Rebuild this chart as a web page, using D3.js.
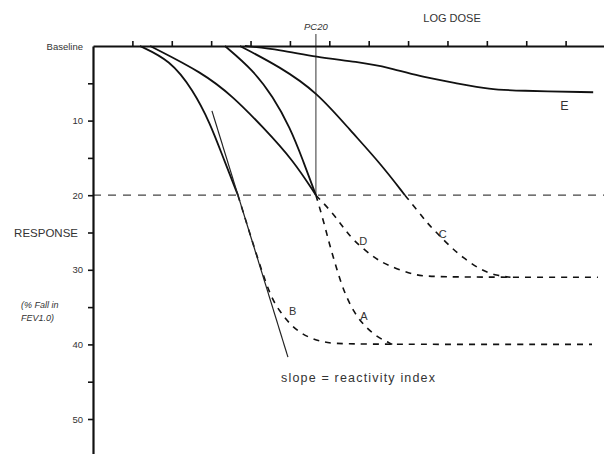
<!DOCTYPE html>
<html>
<head>
<meta charset="utf-8">
<script src="https://cdn.jsdelivr.net/npm/d3@7"></script>
<style>
  body { margin: 0; background: #fff; }
  text { font-family: "Liberation Sans", Arial, sans-serif; fill: #333; }
</style>
</head>
<body>
<div id="chart"></div>
<script>
// data: [log dose, % fall]
var xTicks = [1, 2, 3, 4, 5, 6, 7, 8, 9, 10, 11, 12];
var yTicks = [0, 5, 10, 15, 20, 25, 30, 35, 40, 45, 50];
var yTickLabels = { 0: "Baseline", 10: "10", 20: "20", 25: "RESPONSE", 30: "30", 40: "40", 50: "50" };
var pc20Dose = 5.66;
var pc20Level = 20;

var curveA_solid = [[3.35, 0], [4.06, 3.2], [4.57, 6.8], [5.0, 10.9], [5.33, 15.3], [5.66, 20]];
var curveA_dash = [[5.66, 20], [5.84, 23.2], [6.0, 26.5], [6.15, 29.2], [6.3, 31.8], [6.45, 33.8], [6.62, 35.6], [6.85, 37.3], [7.2, 39.0], [7.6, 40]];
var curveB_solid = [[1.19, 0], [1.96, 1.9], [2.54, 5.9], [2.97, 10.3], [3.3, 14.9], [3.68, 20]];
var curveB_dash = [[3.68, 20], [4.11, 27.3], [4.5, 33.6], [4.75, 35.6], [4.95, 37.0], [5.26, 38.5], [5.59, 39.3], [5.94, 39.8], [6.4, 40], [12.67, 40]];
var curveC_solid = [[3.73, 0], [4.75, 2.8], [5.69, 6.2], [6.53, 11.3], [7.29, 15.7], [7.92, 20]];
var curveC_dash = [[7.92, 20], [8.23, 22.0], [8.48, 23.7], [8.74, 25.1], [9.07, 26.9], [9.4, 28.4], [9.83, 30.0], [10.26, 30.8], [10.6, 31]];
var curveD_solid = [[1.45, 0], [2.79, 3.6], [3.56, 6.8], [4.32, 10.9], [5.08, 15.3], [5.66, 20]];
var curveD_dash = [[5.66, 20], [6.09, 22.4], [6.35, 24.3], [6.6, 26.0], [7.11, 28.3], [7.47, 29.4], [8.13, 30.7], [8.63, 31], [12.82, 31]];
var curveE = [[3.86, 0], [4.75, 0.5], [5.66, 1.5], [6.7, 2.1], [7.54, 2.9], [8.38, 4.2], [9.24, 5.0], [10.08, 5.8], [10.77, 6.0], [12.7, 6.2]];
var slopeLine = [[3.02, 8.7], [4.95, 41.7]];

var curveLabels = [
    { name: "A", x: 6.88, y: 36.4, size: 11 },
    { name: "B", x: 5.07, y: 35.7, size: 11 },
    { name: "C", x: 8.88, y: 25.4, size: 11 },
    { name: "D", x: 6.86, y: 26.3, size: 11 },
    { name: "E", x: 11.97, y: 8.2, size: 12.5 }
];

var width = 604, height = 454;

var svg = d3.select("#chart")
    .append("svg")
    .attr("width", width)
    .attr("height", height);

var x = d3.scaleLinear().domain([0, 13]).range([93, 605]);
var y = d3.scaleLinear().domain([0, 55]).range([46, 456.3]);

// PC20 guide lines
svg.append("line")
    .attr("x1", x(0)).attr("x2", width)
    .attr("y1", y(pc20Level)).attr("y2", y(pc20Level))
    .attr("stroke", "#444").attr("stroke-width", 1.2)
    .attr("stroke-dasharray", "8,7");

svg.append("line")
    .attr("x1", x(pc20Dose)).attr("x2", x(pc20Dose))
    .attr("y1", 34).attr("y2", y(pc20Level))
    .attr("stroke", "#333").attr("stroke-width", 1);

// curves
var line = d3.line()
    .x(function (d) { return x(d[0]); })
    .y(function (d) { return y(d[1]); })
    .curve(d3.curveBasis);

var solids = [curveA_solid, curveB_solid, curveC_solid, curveD_solid, curveE];
var dashes = [curveA_dash, curveB_dash, curveC_dash, curveD_dash];

svg.append("g")
    .selectAll("path")
    .data(solids)
    .enter()
    .append("path")
    .attr("d", line)
    .attr("fill", "none")
    .attr("stroke", "#111")
    .attr("stroke-width", 1.8);

svg.append("g")
    .selectAll("path")
    .data(dashes)
    .enter()
    .append("path")
    .attr("d", line)
    .attr("fill", "none")
    .attr("stroke", "#111")
    .attr("stroke-width", 1.6)
    .attr("stroke-dasharray", "6,6");

svg.append("path")
    .attr("d", d3.line()
        .x(function (d) { return x(d[0]); })
        .y(function (d) { return y(d[1]); })(slopeLine))
    .attr("fill", "none")
    .attr("stroke", "#222")
    .attr("stroke-width", 1.2);

svg.append("g")
    .selectAll("text")
    .data(curveLabels)
    .enter()
    .append("text")
    .attr("x", function (d) { return x(d.x); })
    .attr("y", function (d) { return y(d.y); })
    .attr("font-size", function (d) { return d.size; })
    .attr("text-anchor", "middle")
    .attr("dominant-baseline", "middle")
    .text(function (d) { return d.name; });

// axes
var xAxis = svg.append("g")
    .attr("transform", "translate(0," + y(0) + ")")
    .call(d3.axisTop(x).tickValues(xTicks).tickSize(5).tickSizeOuter(0).tickFormat(""));

var yAxis = svg.append("g")
    .attr("transform", "translate(" + x(0) + ",0)")
    .call(d3.axisLeft(y).tickValues(yTicks).tickSize(5).tickSizeOuter(0)
        .tickFormat(function (d) { return yTickLabels[d] || ""; }));

[xAxis, yAxis].forEach(function (a) {
    a.select(".domain").attr("stroke", "#111").attr("stroke-width", 2.2);
    a.selectAll(".tick line").attr("stroke", "#111").attr("stroke-width", 1.6);
});
yAxis.selectAll(".tick").filter(function (d) { return d === 0; }).select("line").remove();
yAxis.selectAll(".tick text")
    .attr("x", function (d) { return d === 25 ? -15 : -10; })
    .style("font-family", "'Liberation Sans', Arial, sans-serif")
    .attr("fill", "#333")
    .attr("font-size", function (d) { return d === 25 ? 11.5 : 9.5; });

// axis titles
svg.append("text")
    .attr("x", 452).attr("y", 22)
    .attr("text-anchor", "middle")
    .attr("font-size", 11)
    .text("LOG DOSE");

svg.append("text")
    .attr("x", x(pc20Dose)).attr("y", 30)
    .attr("text-anchor", "middle")
    .attr("font-size", 9.5)
    .attr("font-style", "italic")
    .text("PC20");

svg.append("text")
    .attr("x", 21).attr("y", 308)
    .attr("font-size", 9)
    .attr("font-style", "italic")
    .text("(% Fall in");

svg.append("text")
    .attr("x", 21).attr("y", 321)
    .attr("font-size", 9)
    .attr("font-style", "italic")
    .text("FEV1.0)");

svg.append("text")
    .attr("x", 281).attr("y", 382)
    .attr("font-size", 12.5)
    .attr("textLength", 154)
    .text("slope = reactivity index");
</script>
</body>
</html>
